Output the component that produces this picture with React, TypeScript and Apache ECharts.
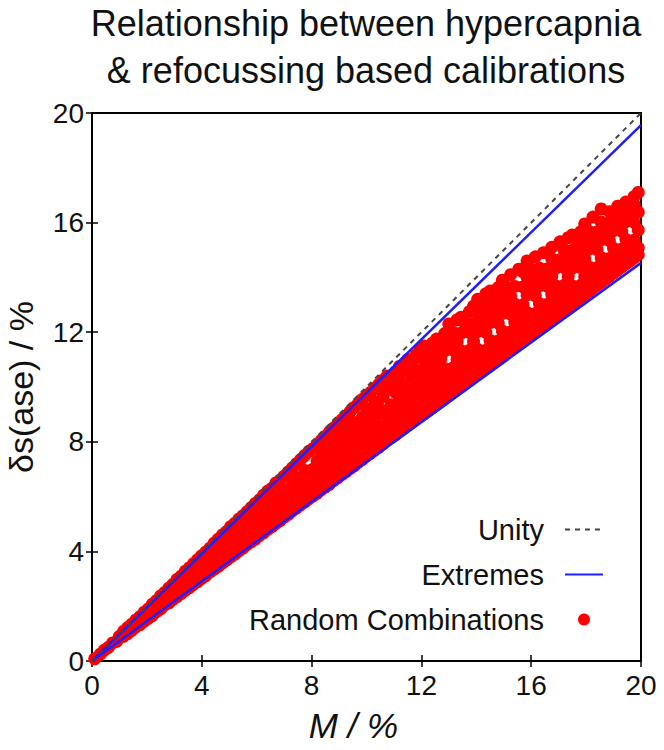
import React, { useEffect, useRef } from "react";
import * as echarts from "echarts";

const titleText = "Relationship between hypercapnia\n& refocussing based calibrations";
const xTicks = [0, 4, 8, 12, 16, 20];
const yTicks = [0, 4, 8, 12, 16, 20];
const legendNames = ["Unity", "Extremes", "Random Combinations"];

const unityLine = [[0, 0], [20, 20]];
const extremeUpper = [[0, 0], [20, 19.56]];
const extremeLower = [[0, 0], [20, 14.53]];

// Each row: M value first, then the δs(ase) values of the dots seen at that M.
const strip0to4 = [
  [0.1, 0.08], [0.3, 0.25], [0.45, 0.4], [0.6, 0.5], [0.75, 0.66], [0.9, 0.72], [1.0, 0.9],
  [1.15, 0.9, 1.08], [1.3, 1.0, 1.22], [1.45, 1.12, 1.35], [1.6, 1.25, 1.5], [1.75, 1.33, 1.62],
  [1.9, 1.45, 1.78], [2.05, 1.56, 1.9, 1.75], [2.2, 1.66, 2.08], [2.35, 1.8, 2.2, 1.98],
  [2.5, 1.9, 2.38], [2.65, 2.05, 2.5, 2.28], [2.8, 2.12, 2.66], [2.95, 2.25, 2.8, 2.55],
  [3.1, 2.35, 2.98, 2.7], [3.25, 2.46, 3.1, 2.82], [3.4, 2.58, 3.28, 2.95],
  [3.55, 2.68, 3.4, 3.1], [3.7, 2.8, 3.55, 3.22], [3.85, 2.9, 3.7, 3.3], [4.0, 3.02, 3.85, 3.45],
];
const strip4to8 = [
  [4.15, 3.12, 3.55, 3.98], [4.3, 3.25, 3.7, 4.12, 3.45], [4.45, 3.35, 3.82, 4.3],
  [4.6, 3.45, 4.0, 4.45, 3.72], [4.75, 3.58, 4.1, 4.6], [4.9, 3.68, 4.22, 4.72, 3.95],
  [5.05, 3.8, 4.35, 4.9], [5.2, 3.9, 4.5, 5.02, 4.2], [5.35, 4.02, 4.6, 5.18, 4.85],
  [5.5, 4.12, 4.45, 5.3], [5.65, 4.25, 4.9, 5.45, 4.6], [5.8, 4.35, 5.05, 5.6],
  [5.95, 4.45, 4.8, 5.75, 5.25], [6.1, 4.58, 5.3, 5.88, 4.95], [6.25, 4.68, 5.1, 6.05, 5.6],
  [6.4, 4.8, 5.45, 6.2, 5.85], [6.55, 4.9, 5.25, 6.3, 5.7], [6.7, 5.02, 5.55, 6.5, 6.0],
  [6.85, 5.12, 5.4, 6.6, 5.95], [7.0, 5.25, 5.75, 6.75, 6.25], [7.15, 5.35, 6.05, 6.9, 5.6],
  [7.3, 5.48, 5.9, 7.05, 6.45], [7.45, 5.58, 6.25, 7.2, 6.7], [7.6, 5.7, 6.0, 7.35, 6.55],
  [7.75, 5.8, 6.4, 7.5, 6.95], [7.9, 5.92, 6.2, 7.65, 6.75],
];
const strip8to12 = [
  [8.05, 6.02, 6.5, 7.0, 7.75], [8.2, 6.12, 6.8, 7.3, 7.9, 6.4], [8.35, 6.25, 6.65, 7.15, 7.65, 8.05],
  [8.5, 6.35, 6.95, 7.5, 8.2], [8.65, 6.45, 6.75, 7.25, 7.85, 8.35], [8.8, 6.58, 7.1, 7.6, 8.5, 8.1],
  [8.95, 6.68, 6.95, 7.4, 7.95, 8.65], [9.1, 6.8, 7.25, 7.75, 8.3, 8.8],
  [9.25, 6.9, 7.5, 8.05, 8.55, 8.95], [9.4, 7.02, 7.35, 7.85, 8.4, 9.1],
  [9.55, 7.12, 7.6, 8.15, 8.7, 9.25], [9.7, 7.25, 7.9, 8.45, 9.4, 7.5],
  [9.85, 7.35, 7.75, 8.3, 8.9, 9.55], [10.0, 7.48, 8.05, 8.6, 9.2, 9.7],
  [10.15, 7.58, 7.9, 8.45, 9.0, 9.8], [10.3, 7.7, 8.25, 8.8, 9.45, 9.95],
  [10.45, 7.8, 8.1, 8.6, 9.25, 10.1], [10.6, 7.92, 8.5, 9.05, 9.65, 10.25],
  [10.75, 8.05, 8.35, 8.95, 9.9, 10.4], [10.9, 8.15, 8.75, 9.35, 10.1],
  [11.05, 8.25, 8.55, 9.2, 9.8, 10.55], [11.2, 8.38, 9.0, 9.6, 10.3, 10.75],
  [11.35, 8.48, 8.8, 9.45, 10.05], [11.5, 8.6, 9.2, 9.85, 10.6, 11.0],
  [11.65, 8.7, 9.05, 9.65, 10.35, 10.9], [11.8, 8.82, 9.4, 10.15, 11.15],
  [11.95, 8.92, 9.25, 9.9, 10.6, 11.35],
];
const strip12to16 = [
  [12.1, 9.02, 9.66, 10.31, 10.96, 11.5], [12.25, 9.13, 9.38, 10.03, 10.68, 11.33],
  [12.4, 9.24, 9.69, 10.34, 10.99, 11.6], [12.55, 9.35, 10.0, 10.65, 11.3, 11.75],
  [12.7, 9.46, 9.71, 10.36, 11.01, 11.66], [12.85, 9.57, 10.02, 10.67, 11.32, 11.95],
  [13.0, 9.69, 10.34, 11.64, 12.3], [13.15, 9.8, 10.05, 10.7, 11.35, 12.0],
  [13.3, 9.91, 10.36, 11.01, 11.66, 12.45], [13.45, 10.02, 10.67, 11.32, 11.97, 12.55],
  [13.6, 10.13, 10.38, 11.03, 12.33], [13.75, 10.24, 10.69, 11.34, 11.99, 12.75],
  [13.9, 10.36, 11.01, 11.66, 12.31, 12.95], [14.05, 10.47, 10.72, 11.37, 12.02, 12.67, 13.2],
  [14.2, 10.58, 11.03, 12.33, 13.0], [14.35, 10.69, 11.34, 11.99, 12.64, 13.4],
  [14.5, 10.8, 11.05, 11.7, 12.35, 13.0, 13.5], [14.65, 10.91, 11.36, 12.66, 13.31],
  [14.8, 11.03, 11.68, 12.33, 12.98, 13.63], [14.95, 11.14, 11.39, 12.04, 12.69, 13.34, 13.9],
  [15.1, 11.25, 11.7, 13.0, 13.65], [15.25, 11.36, 12.01, 12.66, 13.31, 14.1],
  [15.4, 11.47, 11.72, 12.37, 13.02, 13.67], [15.55, 11.58, 12.03, 12.68, 14.3],
  [15.7, 11.7, 12.35, 13.0, 13.65, 14.2], [15.85, 11.81, 12.06, 12.71, 13.36, 14.01, 14.6],
];
const strip16to20 = [
  [16.0, 11.92, 12.37, 13.67, 14.3], [16.15, 12.03, 12.68, 13.33, 13.98, 14.75],
  [16.3, 12.14, 12.39, 13.04, 13.69, 14.34], [16.45, 12.26, 12.71, 14.01, 14.9],
  [16.6, 12.37, 13.02, 13.67, 14.32], [16.75, 12.48, 12.73, 13.38, 14.03, 14.68, 15.1],
  [16.9, 12.59, 13.04, 13.69, 14.34], [17.05, 12.7, 13.35, 14.65, 15.3],
  [17.2, 12.81, 13.06, 13.71, 14.36, 15.01], [17.35, 12.93, 13.38, 14.03, 14.68, 15.45],
  [17.5, 13.04, 13.69, 14.34, 14.99, 15.55], [17.65, 13.15, 13.4, 14.7, 15.35],
  [17.8, 13.26, 13.71, 14.36, 15.01, 15.66], [17.95, 13.37, 14.02, 14.67, 15.32, 15.95],
  [18.1, 13.48, 13.73, 14.38, 15.03, 15.68], [18.25, 13.6, 14.05, 15.35, 16.2],
  [18.4, 13.71, 14.36, 15.01, 15.66], [18.55, 13.82, 14.07, 14.72, 15.37, 16.02, 16.5],
  [18.7, 13.93, 14.38, 15.68], [18.85, 14.04, 14.69, 15.34, 15.99, 16.4],
  [19.0, 14.16, 14.41, 15.06, 15.71, 16.3], [19.15, 14.27, 14.72, 16.02, 16.6],
  [19.3, 14.38, 15.03, 15.68, 16.33], [19.45, 14.49, 14.74, 15.39, 16.04, 16.75],
  [19.6, 14.6, 15.05, 16.35], [19.75, 14.71, 15.36, 16.01, 16.66, 16.95],
  [19.9, 14.83, 15.08, 15.73, 16.38, 17.1],
];

const stripRows = [...strip0to4, ...strip4to8, ...strip8to12, ...strip12to16, ...strip16to20];
const randomPoints: number[][] = [];
stripRows.forEach((row) => {
  const m = row[0];
  row.slice(1).forEach((ds) => randomPoints.push([m, ds]));
});

const FONT = "'Liberation Sans', Arial, Helvetica, sans-serif";
const INK = "#111111";
const CLEAR = "rgba(0,0,0,0)";

export default function App() {
  const ref = useRef<HTMLDivElement>(null);

  useEffect(() => {
    if (!ref.current) return;
    const chart = echarts.init(ref.current, null, { renderer: "svg" });
    const xMin = xTicks[0];
    const xMax = xTicks[xTicks.length - 1];
    const xStep = xTicks[1] - xTicks[0];
    const yMin = yTicks[0];
    const yMax = yTicks[yTicks.length - 1];
    const yStep = yTicks[1] - yTicks[0];

    const baseAxis = {
      type: "value",
      axisLine: { show: false },
      splitLine: { show: false },
      axisTick: { show: true, inside: true, length: 6, lineStyle: { color: "#000", width: 1.5 } },
    };

    chart.setOption({
      animation: false,
      backgroundColor: "#ffffff",
      title: {
        text: titleText,
        left: 366,
        top: 0,
        padding: 0,
        textAlign: "center",
        textStyle: {
          fontFamily: FONT,
          fontSize: 36,
          fontWeight: "normal",
          color: INK,
          lineHeight: 47,
        },
      },
      grid: {
        left: 92,
        right: 23,
        top: 113,
        bottom: 89,
        show: true,
        borderColor: "#000",
        borderWidth: 2,
        backgroundColor: "transparent",
        containLabel: false,
        outerBoundsMode: "none",
      },
      legend: {
        orient: "vertical",
        right: 55,
        top: 510,
        align: "right",
        itemWidth: 38,
        itemHeight: 12,
        itemGap: 16,
        data: legendNames,
        selectedMode: false,
        textStyle: {
          fontFamily: FONT,
          fontSize: 29,
          color: INK,
          padding: [0, 16, 0, 0],
        },
      },
      xAxis: [
        {
          ...baseAxis,
          min: xMin,
          max: xMax,
          interval: xStep,
          position: "bottom",
          name: "M / %",
          nameLocation: "middle",
          nameGap: 47,
          nameTextStyle: {
            fontFamily: FONT,
            fontSize: 35,
            fontStyle: "italic",
            color: INK,
            padding: [0, 26, 0, 0],
          },
          axisLabel: { fontFamily: FONT, fontSize: 28, color: INK, margin: 10 },
        },
        {
          ...baseAxis,
          min: xMin,
          max: xMax,
          interval: xStep,
          position: "top",
          axisLabel: { show: false },
        },
      ],
      yAxis: [
        {
          ...baseAxis,
          min: yMin,
          max: yMax,
          interval: yStep,
          position: "left",
          name: "δs(ase) / %",
          nameLocation: "middle",
          nameGap: 53,
          nameTextStyle: { fontFamily: FONT, fontSize: 34, color: INK, lineHeight: 36 },
          axisLabel: { fontFamily: FONT, fontSize: 28, color: INK, margin: 8 },
        },
        {
          ...baseAxis,
          min: yMin,
          max: yMax,
          interval: yStep,
          position: "right",
          axisLabel: { show: false },
        },
      ],
      series: [
        {
          name: "Random Combinations",
          type: "scatter",
          data: randomPoints,
          symbol: "circle",
          symbolSize: 13,
          itemStyle: { color: "#ff0000", opacity: 1 },
          z: 2,
          clip: false,
        },
        {
          name: "Unity",
          type: "line",
          data: unityLine,
          symbol: "none",
          lineStyle: { color: "#444444", width: 2, type: [5, 5] },
          itemStyle: { color: CLEAR, borderWidth: 0 },
          z: 4,
        },
        {
          name: "Extremes",
          type: "line",
          data: extremeUpper,
          symbol: "none",
          lineStyle: { color: "#1e1eff", width: 2.5 },
          itemStyle: { color: CLEAR, borderWidth: 0 },
          z: 3,
        },
        {
          name: "Extremes",
          type: "line",
          data: extremeLower,
          symbol: "none",
          lineStyle: { color: "#1e1eff", width: 2.5 },
          itemStyle: { color: CLEAR, borderWidth: 0 },
          z: 3,
        },
      ],
    });
    return () => chart.dispose();
  }, []);

  return (
    <div
      ref={ref}
      style={{ position: "fixed", left: 0, top: 0, width: 664, height: 750, background: "#fff" }}
    />
  );
}
